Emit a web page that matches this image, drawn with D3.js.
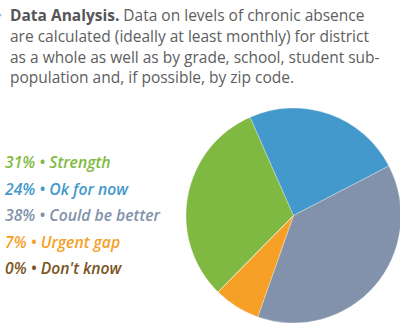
<!DOCTYPE html>
<html><head><meta charset="utf-8">
<script src="https://cdn.jsdelivr.net/npm/d3@7"></script>
<style>body{margin:0;background:#fff;}svg{display:block;}</style>
</head><body>
<script>
const categories = ["Strength", "Ok for now", "Could be better", "Urgent gap", "Don't know"];
const values = [31, 24, 38, 7, 0];
const sliceColors = ["#80b941", "#4398cc", "#8192aa", "#f6a027", "#7b5423"];
const textColors = ["#80b941", "#4398cc", "#8192aa", "#f6a027", "#7b5423"];
const titleBold = "Data Analysis.";
const titleLines = [
  " Data on levels of chronic absence",
  "are calculated (ideally at least monthly) for district",
  "as a whole as well as by grade, school, student sub-",
  "population and, if possible, by zip code."
];

const W = 400, H = 331;
const svg = d3.select("body").append("svg").attr("width", W).attr("height", H);

// small clipped bullet at left of title
svg.append("circle").attr("cx", 0).attr("cy", 15).attr("r", 1.6).attr("fill", "#9fcbe8");

const tt = svg.append("text").attr("font-family", "Open Sans").attr("font-size", 15.5).attr("fill", "#5d5e60");
titleLines.forEach((l, i) => {
  const t = tt.append("tspan").attr("x", 10).attr("y", 21 + i * 20.8);
  if (i === 0) {
    t.append("tspan").attr("font-weight", 700).attr("fill", "#555658").text(titleBold);
    t.append("tspan").text(l);
  } else t.text(l);
});

// legend
const ly = d3.scalePoint().domain(categories).range([168, 274]);
svg.append("g").selectAll("text").data(categories).join("text")
  .attr("x", 5).attr("y", d => ly(d))
  .attr("font-family", "Open Sans").attr("font-style", "italic").attr("font-weight", 600)
  .attr("font-size", 15.7)
  .attr("fill", (d, i) => textColors[i])
  .text((d, i) => `${values[i]}% \u2022 ${d}`);

// pie
const cx = 293.5, cy = 215.5, R = 107.5;
const pie = d3.pie().sort(null).value(d => d)
  .startAngle(-135.4 * Math.PI / 180).endAngle(224.6 * Math.PI / 180);
const arc = d3.arc().innerRadius(0).outerRadius(R);
svg.append("g").attr("transform", `translate(${cx},${cy})`)
  .selectAll("path").data(pie(values)).join("path")
  .attr("d", arc)
  .attr("fill", (d, i) => sliceColors[i])
  .attr("stroke", "#fff").attr("stroke-width", 0.5).attr("stroke-opacity", 0.6);
</script>
</body></html>
